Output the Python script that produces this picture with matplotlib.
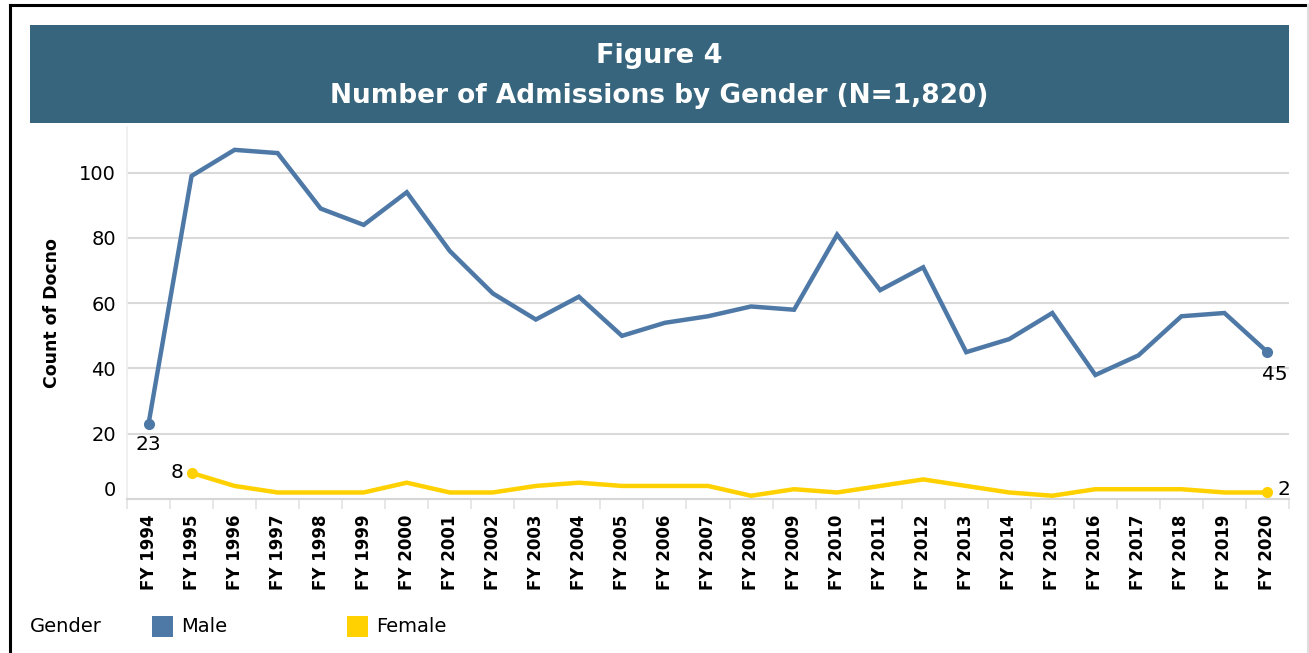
import numpy as np
import matplotlib
matplotlib.use("Agg")
import matplotlib.pyplot as plt
import matplotlib.transforms as mtrans
from matplotlib.patches import Rectangle
from matplotlib.lines import Line2D

plt.rcParams['font.family'] = ['DejaVu Sans']

years = [f"FY {y}" for y in range(1994, 2021)]
male = [23, 99, 107, 106, 89, 84, 94, 76, 63, 55, 62, 50, 54, 56, 59, 58,
        81, 64, 71, 45, 49, 57, 38, 44, 56, 57, 45]
female = [np.nan, 8, 4, 2, 2, 2, 5, 2, 2, 4, 5, 4, 4, 4, 1, 3,
          2, 4, 6, 4, 2, 1, 3, 3, 3, 2, 2]
yticks = [0, 20, 40, 60, 80, 100]
title1 = "Figure 4"
title2 = "Number of Admissions by Gender (N=1,820)"
legend_title = "Gender"
series_names = ["Male", "Female"]

MALE_C = "#4E79A7"
FEM_C = "#FFD100"
HEAD_C = "#36657D"

W, H = 1309, 653
fig = plt.figure(figsize=(W / 100, H / 100), dpi=100)

def fx(px):
    return px / W

def fy(py):
    return 1 - py / H

# frame lines
fig.add_artist(Line2D([fx(10), fx(10)], [0, fy(5)], color="black", lw=2.2))
fig.add_artist(Line2D([fx(10), 1], [fy(5), fy(5)], color="black", lw=2.2))
fig.add_artist(Line2D([fx(1308), fx(1308)], [0, fy(5)], color="#DDDDDD", lw=1.5))

# header band
fig.add_artist(Rectangle((fx(30), fy(123)), fx(1289) - fx(30), fy(25) - fy(123),
                         transform=fig.transFigure, color=HEAD_C, lw=0))
cx = (fx(30) + fx(1289)) / 2
fig.text(cx, fy(56), title1, ha="center", va="center", color="white",
         fontsize=19.5, fontweight="bold")
fig.text(cx, fy(96), title2, ha="center", va="center", color="white",
         fontsize=19, fontweight="bold")

ax = fig.add_axes([fx(127), fy(499), fx(1289) - fx(127), fy(127) - fy(499)])
x = np.arange(len(years))
ax.plot(x, male, color=MALE_C, lw=3.2, solid_joinstyle="miter", zorder=3)
ax.plot(x, female, color=FEM_C, lw=3.2, solid_joinstyle="miter", zorder=3)

fi = [i for i, v in enumerate(female) if not np.isnan(v)]
ax.plot([x[0], x[-1]], [male[0], male[-1]], "o", color=MALE_C, ms=7, zorder=4)
ax.plot([x[fi[0]], x[fi[-1]]], [female[fi[0]], female[fi[-1]]], "o",
        color=FEM_C, ms=7, zorder=4)

lblkw = dict(fontsize=14.5, color="black", textcoords="offset points")
ax.annotate(f"{male[0]}", (x[0], male[0]), xytext=(0, -15), ha="center", va="center", **lblkw)
ax.annotate(f"{male[-1]}", (x[-1], male[-1]), xytext=(5, -16), ha="center", va="center", **lblkw)
ax.annotate(f"{int(female[fi[0]])}", (x[fi[0]], female[fi[0]]), xytext=(-6, 0),
            ha="right", va="center", **lblkw)
ax.annotate(f"{int(female[fi[-1]])}", (x[fi[-1]], female[fi[-1]]), xytext=(7, 2),
            ha="left", va="center", **lblkw)

ax.set_xlim(-0.5, len(years) - 0.5)
ax.set_ylim(0, 114)
ax.set_yticks(yticks)
ax.set_xticks(x)
ax.set_xticklabels(years, rotation=90, fontsize=12, fontweight="bold")
ax.set_xticks(np.arange(-0.5, len(years), 1), minor=True)
ax.tick_params(axis="x", which="major", length=0, pad=11)
ax.tick_params(axis="x", which="minor", length=7, color="#E3E3E3", width=1.2)
ax.tick_params(axis="y", length=0, pad=8, labelsize=14)
ax.grid(axis="y", color="#D9D9D9", lw=1.5)
ax.set_axisbelow(True)
for s in ["top", "right"]:
    ax.spines[s].set_visible(False)
ax.spines["left"].set_color("#EEEEEE")
ax.spines["left"].set_linewidth(1.2)
ax.spines["bottom"].set_color("#D6D6D6")
ax.spines["bottom"].set_linewidth(1.5)

ax.set_ylabel("Count of Docno", fontsize=12.5, fontweight="bold", labelpad=13)

# nudge zero label upward as in the reference
zt = ax.yaxis.get_major_ticks()[0].label1
zt.set_transform(zt.get_transform() + mtrans.ScaledTranslation(0, 0.11, fig.dpi_scale_trans))

# legend
fig.text(fx(30), fy(626), legend_title, ha="left", va="center", fontsize=14)
for name, col, px in [(series_names[0], MALE_C, 152), (series_names[1], FEM_C, 347)]:
    fig.add_artist(Rectangle((fx(px), fy(637)), fx(21), fy(616) - fy(637),
                             transform=fig.transFigure, color=col, lw=0))
    fig.text(fx(px + 29), fy(626), name, ha="left", va="center", fontsize=14)

fig.savefig("out.png", dpi=100)
